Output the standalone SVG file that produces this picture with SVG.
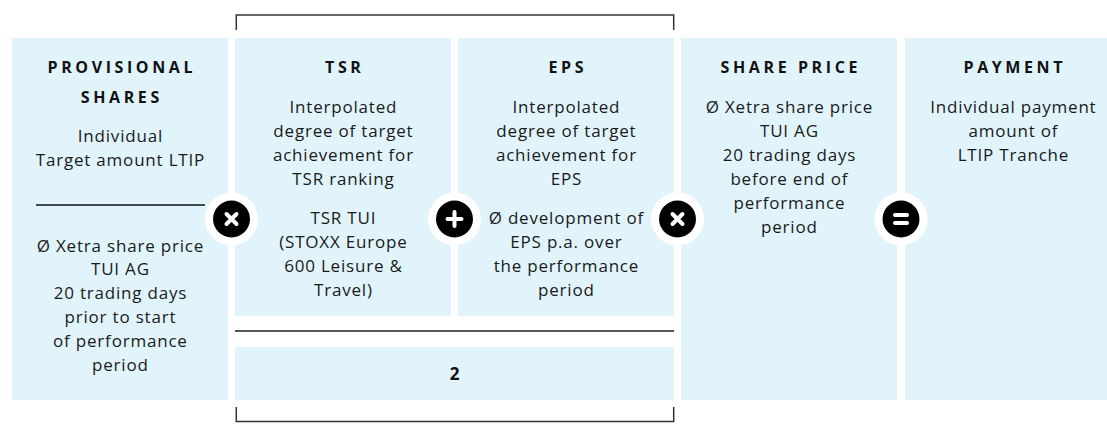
<svg xmlns="http://www.w3.org/2000/svg" width="1107" height="439" viewBox="0 0 1107 439">
<style>
.box{fill:#e1f4fc}
.h{font-family:"Open Sans","Liberation Sans",sans-serif;font-size:16px;font-weight:700;letter-spacing:3.6px;fill:#111;text-anchor:middle}
.t{font-family:"Open Sans","Liberation Sans",sans-serif;font-size:17px;fill:#1a1a1a;text-anchor:middle;letter-spacing:0.8px}
.b{font-family:"Open Sans","Liberation Sans",sans-serif;font-size:17px;font-weight:700;fill:#111;text-anchor:middle}
.ring{fill:#fff}
.dot{fill:#000}
.sym{stroke:#fff;stroke-width:4;stroke-linecap:round;fill:none}
.br{stroke:#333;stroke-width:1.5;fill:none}
</style>
<rect width="1107" height="439" fill="#fff"/>
<g id="provisional-shares">
<rect class="box" x="12" y="38" width="216" height="362"/>
<text class="h" x="121.8" y="73">PROVISIONAL</text>
<text class="h" x="121.8" y="103">SHARES</text>
<text class="t" x="120.4" y="142">Individual</text>
<text class="t" x="120.4" y="166">Target amount LTIP</text>
<line x1="36" y1="205" x2="205" y2="205" stroke="#111" stroke-width="1.3"/>
<text class="t" x="120.4" y="252">Ø Xetra share price</text>
<text class="t" x="120.4" y="275">TUI AG</text>
<text class="t" x="120.4" y="299">20 trading days</text>
<text class="t" x="120.4" y="323">prior to start</text>
<text class="t" x="120.4" y="347">of performance</text>
<text class="t" x="120.4" y="371">period</text>
</g>
<g id="tsr">
<rect class="box" x="235" y="38" width="216" height="278"/>
<text class="h" x="344.8" y="73">TSR</text>
<text class="t" x="343.4" y="113">Interpolated</text>
<text class="t" x="343.4" y="137">degree of target</text>
<text class="t" x="343.4" y="161">achievement for</text>
<text class="t" x="343.4" y="185">TSR ranking</text>
<text class="t" x="343.4" y="224">TSR TUI</text>
<text class="t" x="343.4" y="248">(STOXX Europe</text>
<text class="t" x="343.4" y="272">600 Leisure &amp;</text>
<text class="t" x="343.4" y="296">Travel)</text>
</g>
<g id="eps">
<rect class="box" x="458" y="38" width="216" height="278"/>
<text class="h" x="567.8" y="73">EPS</text>
<text class="t" x="566.4" y="113">Interpolated</text>
<text class="t" x="566.4" y="137">degree of target</text>
<text class="t" x="566.4" y="161">achievement for</text>
<text class="t" x="566.4" y="185">EPS</text>
<text class="t" x="566.4" y="224">Ø development of</text>
<text class="t" x="566.4" y="248">EPS p.a. over</text>
<text class="t" x="566.4" y="272">the performance</text>
<text class="t" x="566.4" y="296">period</text>
</g>
<g id="divisor">
<rect class="box" x="235" y="347" width="439" height="53"/>
<text class="b" x="454.5" y="380">2</text>
</g>
<g id="share-price">
<rect class="box" x="681" y="38" width="216" height="362"/>
<text class="h" x="790.8" y="73">SHARE PRICE</text>
<text class="t" x="789.4" y="113">Ø Xetra share price</text>
<text class="t" x="789.4" y="137">TUI AG</text>
<text class="t" x="789.4" y="161">20 trading days</text>
<text class="t" x="789.4" y="185">before end of</text>
<text class="t" x="789.4" y="209">performance</text>
<text class="t" x="789.4" y="233">period</text>
</g>
<g id="payment">
<rect class="box" x="905" y="38" width="216" height="362"/>
<text class="h" x="1014.8" y="73">PAYMENT</text>
<text class="t" x="1013.4" y="113">Individual payment</text>
<text class="t" x="1013.4" y="137">amount of</text>
<text class="t" x="1013.4" y="161">LTIP Tranche</text>
</g>
<g id="connectors">
<line x1="235" y1="331" x2="674" y2="331" stroke="#555" stroke-width="2"/>
<path class="br" d="M236.3 30 V15 H673.7 V30"/>
<path class="br" d="M236.3 407 V421.5 H673.7 V407"/>
<g id="op-multiply-1">
<circle class="ring" cx="231.5" cy="219" r="26.5"/>
<circle class="dot" cx="231.5" cy="219" r="18.5"/>
<path class="sym" d="M226.5 214 L236.5 224 M236.5 214 L226.5 224"/>
</g>
<g id="op-plus">
<circle class="ring" cx="454.5" cy="219" r="26.5"/>
<circle class="dot" cx="454.5" cy="219" r="18.5"/>
<path class="sym" d="M454.5 212 V226 M447.5 219 H461.5"/>
</g>
<g id="op-multiply-2">
<circle class="ring" cx="677.5" cy="219" r="26.5"/>
<circle class="dot" cx="677.5" cy="219" r="18.5"/>
<path class="sym" d="M672.5 214 L682.5 224 M682.5 214 L672.5 224"/>
</g>
<g id="op-equals">
<circle class="ring" cx="901" cy="219" r="26.5"/>
<circle class="dot" cx="901" cy="219" r="18.5"/>
<path class="sym" d="M895 215 H907 M895 223 H907"/>
</g>
</g>
</svg>
